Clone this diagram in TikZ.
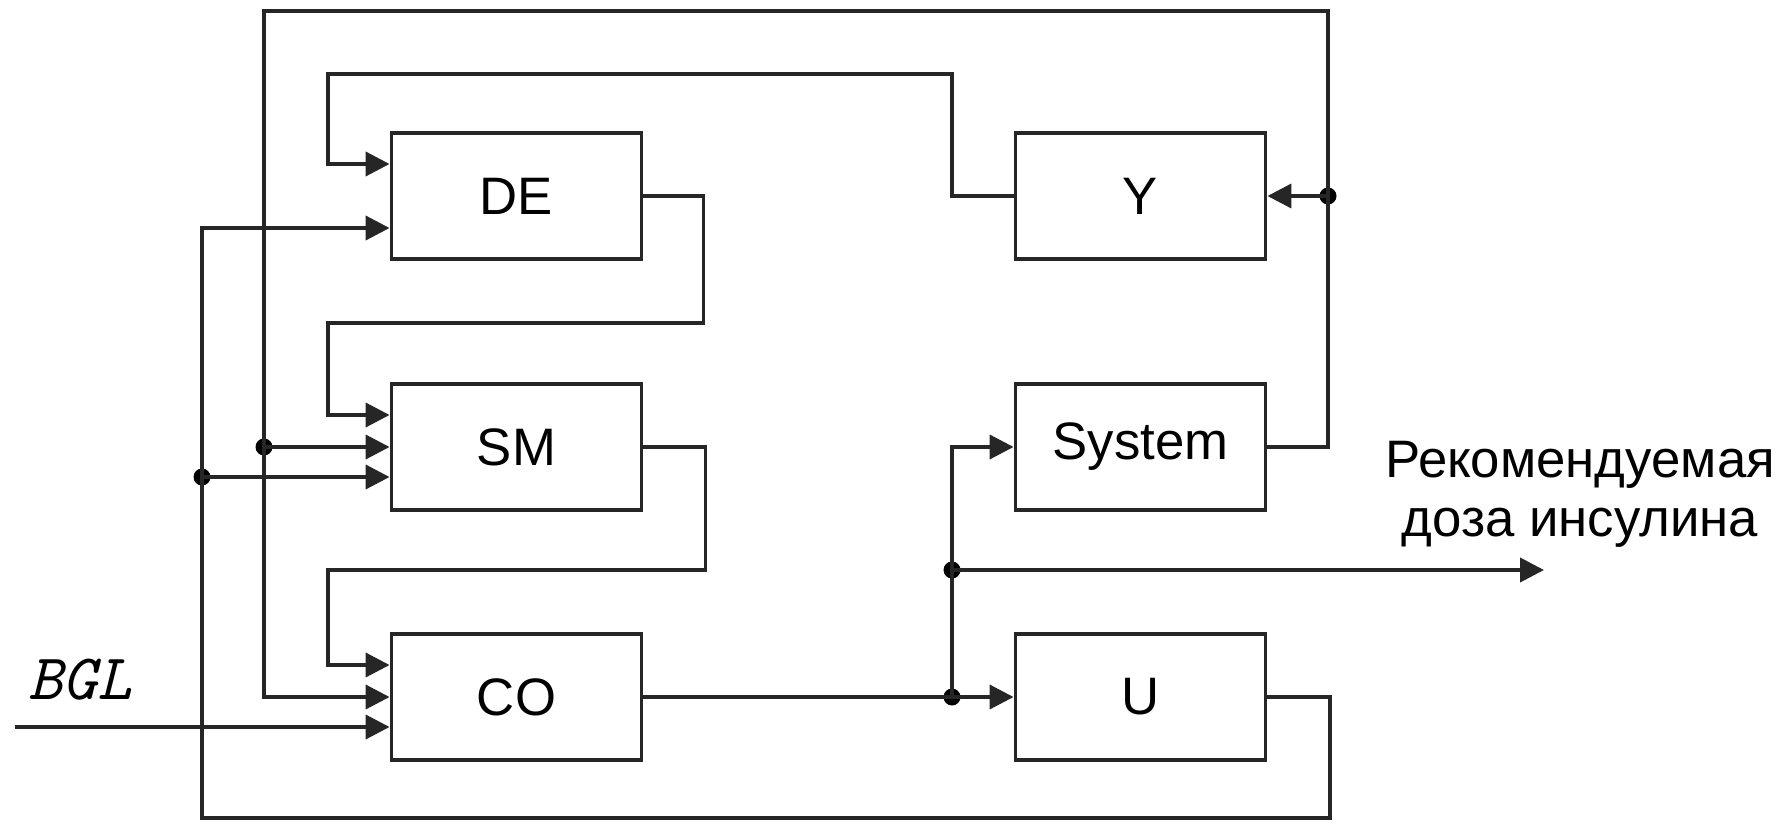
\documentclass[tikz,border=0pt]{standalone}
\usepackage{fontspec}
\setmainfont{Liberation Sans}
\usetikzlibrary{arrows.meta}
\tikzset{
  block/.style={draw=black!85, line width=1.1pt, minimum width=2.5cm, minimum height=1.26cm, inner sep=0pt, font=\fontsize{15}{18}\selectfont},
  wire/.style={line width=1.1pt, draw=black!85, line join=miter},
  feed/.style={wire, -{Triangle[length=0.24cm, width=0.24cm]}},
  junct/.style={circle, fill=black, inner sep=0pt, minimum size=0.17cm},
}

\begin{document}
\begin{tikzpicture}
\useasboundingbox (0,0) rectangle (17.87,8.25);
% blocks
\node[block] (DE) at (5.165,6.29) {DE};
\node[block] (SM) at (5.165,3.78) {SM};
\node[block] (CO) at (5.165,1.28) {CO};
\node[block] (Y) at (11.405,6.29) {Y};
\node[block] (Sys) at (11.405,3.78) {System};
\node[block] (U) at (11.405,1.28) {U};
% junctions
\node[junct] (jY) at (13.28,6.29) {};
\node[junct] (jSM) at (2.64,3.78) {};
\node[junct] (jU) at (2.02,3.48) {};
\node[junct] (jCO) at (9.52,1.28) {};
\node[junct] (jOut) at (9.52,2.55) {};
\coordinate (dose) at (15.44,2.55);
\coordinate (bgl) at (0.15,0.98);
% Y back to DE
\draw[feed] (Y.west) -- (Y.west -| jOut) |- (3.28,7.51) |- ([yshift=0.32cm]DE.west);
% DE -> SM -> CO
\draw[feed] (DE.east) -- ++(0.6,0) |- (3.28,5.02) |- ([yshift=0.32cm]SM.west);
\draw[feed] (SM.east) -- ++(0.62,0) |- (3.28,2.55) |- ([yshift=0.32cm]CO.west);
% CO output
\draw[wire] (CO.east) -- (jCO.center);
\draw[feed] (jCO.center) -- (U.west);
\draw[feed] (jCO.center) |- (Sys.west);
\draw[feed] (jOut.center) -- (dose);
% System output
\draw[wire] (Sys.east) -| (jY.center);
\draw[feed] (jY.center) -- (Y.east);
\draw[feed] (jY.center) |- (2.64,8.14) |- (CO.west);
\draw[feed] (jSM.center) -- (SM.west);
% U feedback
\draw[feed] (U.east) -- ++(0.625,0) |- (2.02,0.07) |- ([yshift=-0.32cm]DE.west);
\draw[feed] (jU.center) -- (jU -| SM.west);
% input
\draw[feed] (bgl) -- (bgl -| CO.west);
\node[font=\ttfamily\itshape\fontsize{18.5}{20}\selectfont] (bgltext) at (0.8,1.45) {BGL};
\node[align=center, font=\fontsize{15}{16.8}\selectfont] (dosetext) at (15.8,3.31) {Рекомендуемая\\доза инсулина};
\end{tikzpicture}
\end{document}
